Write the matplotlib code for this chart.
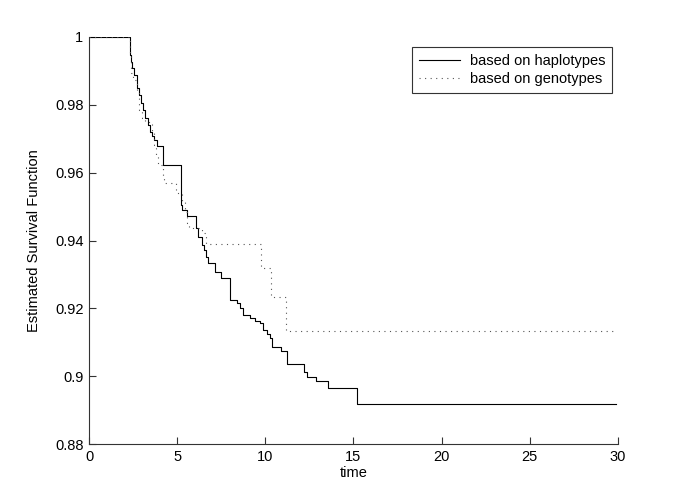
import matplotlib
matplotlib.use("Agg")
import matplotlib.pyplot as plt
import numpy as np

plt.rcParams['font.family'] = ['Liberation Sans', 'DejaVu Sans']

# Haplotype-based Kaplan-Meier estimate (event times, survival after step)
hap_time = [0.0, 2.32, 2.38, 2.45, 2.55, 2.70, 2.83, 2.94, 3.06, 3.17, 3.34, 3.45,
            3.57, 3.68, 3.85, 4.17, 5.19, 5.30, 5.53, 6.06, 6.17, 6.38, 6.51, 6.66,
            6.73, 7.13, 7.51, 7.98, 8.38, 8.55, 8.72, 9.11, 9.39, 9.68, 9.85, 10.07,
            10.24, 10.38, 10.87, 11.21, 12.17, 12.39, 12.85, 13.53, 15.22, 29.9]
hap_surv = [1.0, 0.9947, 0.9926, 0.9909, 0.9888, 0.9850, 0.9829, 0.9805, 0.9785,
            0.9761, 0.9740, 0.9720, 0.9708, 0.9696, 0.9678, 0.9622, 0.9504, 0.9490,
            0.9472, 0.9437, 0.9410, 0.9386, 0.9372, 0.9351, 0.9333, 0.9307, 0.9289,
            0.9224, 0.9215, 0.9201, 0.9180, 0.9171, 0.9162, 0.9156, 0.9136, 0.9124,
            0.9112, 0.9086, 0.9074, 0.9035, 0.9012, 0.8997, 0.8985, 0.8965, 0.8917,
            0.8917]

# Genotype-based estimate
gen_time = [0.0, 2.32, 2.38, 2.49, 2.70, 2.83, 2.98, 3.17, 3.55, 3.68, 3.79, 3.90,
            4.17, 4.24, 4.92, 5.25, 5.43, 5.53, 5.66, 6.40, 6.62, 9.77, 10.34, 11.19,
            29.9]
gen_surv = [1.0, 0.9947, 0.9894, 0.9873, 0.9838, 0.9785, 0.9761, 0.9749, 0.9717,
            0.9681, 0.9652, 0.9622, 0.9587, 0.9569, 0.9540, 0.9513, 0.9484, 0.9451,
            0.9437, 0.9422, 0.9389, 0.9319, 0.9233, 0.9133, 0.9133]

series_labels = ["based on haplotypes", "based on genotypes"]
x_ticks = [0, 5, 10, 15, 20, 25, 30]
y_ticks = [0.88, 0.90, 0.92, 0.94, 0.96, 0.98, 1.0]
y_tick_labels = ["0.88", "0.9", "0.92", "0.94", "0.96", "0.98", "1"]

fig = plt.figure(figsize=(6.85, 4.99), dpi=100)
ax = fig.add_axes([0.130, 0.110, 0.772, 0.816])

ax.step(hap_time, hap_surv, where='post', color='black', lw=0.8,
        label=series_labels[0])
ax.step(gen_time, gen_surv, where='post', color='#555555', lw=0.8,
        linestyle=(0, (1, 4)), label=series_labels[1])

ax.set_xlim(0, 30)
ax.set_ylim(0.88, 1.0)
ax.set_xticks(x_ticks)
ax.set_yticks(y_ticks)
ax.set_yticklabels(y_tick_labels)
ax.set_xlabel("time", fontsize=10.5, labelpad=2)
ax.set_ylabel("Estimated Survival Function", fontsize=10.5, labelpad=10)

for s in ['top', 'right']:
    ax.spines[s].set_visible(False)
for s in ['left', 'bottom']:
    ax.spines[s].set_color('#333333')
    ax.spines[s].set_linewidth(0.8)
ax.tick_params(direction='in', length=5, width=0.8, color='#333333',
               labelsize=10.5, pad=4)

leg = ax.legend(loc='upper right', bbox_to_anchor=(0.989, 0.975),
                borderaxespad=0, fancybox=False, fontsize=10.5,
                handlelength=2.8, handletextpad=0.7, framealpha=1,
                edgecolor='#333333', borderpad=0.45, labelspacing=0.3)
leg.get_frame().set_linewidth(0.8)

fig.savefig("out.png", dpi=100)
